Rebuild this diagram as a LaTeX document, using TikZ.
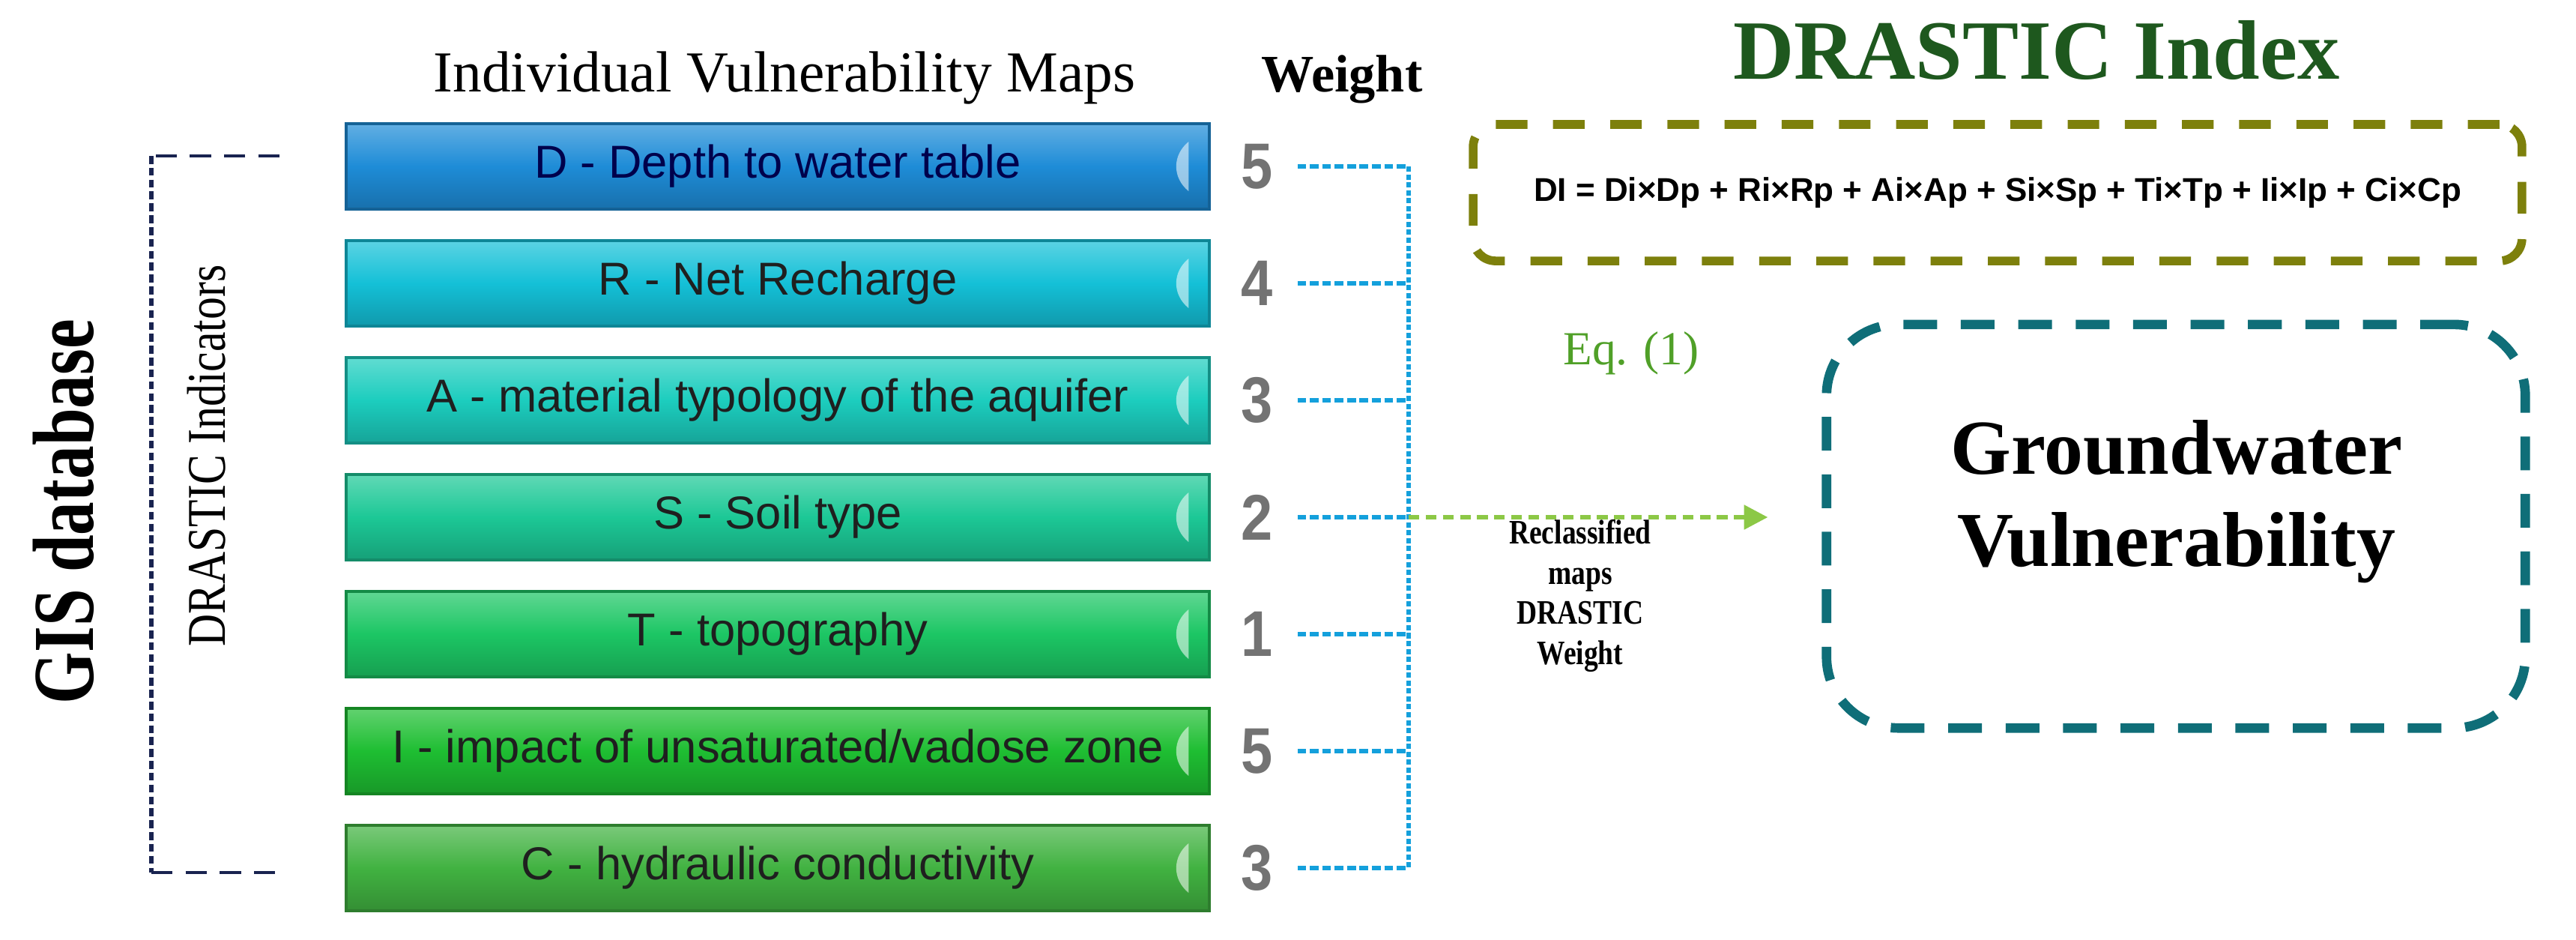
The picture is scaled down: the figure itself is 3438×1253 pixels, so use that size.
\documentclass[tikz,border=0pt]{standalone}
\usepackage{fontspec}
\setmainfont{Liberation Serif}
\newfontfamily\sansf{Liberation Sans}
\newfontfamily\sansn[FakeStretch=0.88]{Liberation Sans}
\newfontfamily\serifn[FakeStretch=0.82]{Liberation Serif}
\newfontfamily\serifm[FakeStretch=0.77]{Liberation Serif}
\usetikzlibrary{calc,arrows.meta}
\definecolor{cD}{RGB}{30,140,215}
\definecolor{cR}{RGB}{20,192,215}
\definecolor{cA}{RGB}{28,205,190}
\definecolor{cS}{RGB}{28,200,150}
\definecolor{cT}{RGB}{28,198,100}
\definecolor{cI}{RGB}{30,190,50}
\definecolor{cC}{RGB}{65,178,65}
\definecolor{dgreen}{RGB}{30,88,30}
\definecolor{eqgreen}{RGB}{80,160,40}
\definecolor{olivebox}{RGB}{125,128,12}
\definecolor{tealbox}{RGB}{15,110,120}
\definecolor{wblue}{RGB}{20,160,220}
\definecolor{agreen}{RGB}{140,200,70}
\definecolor{navy}{RGB}{25,35,80}
\definecolor{wgray}{RGB}{115,115,115}
\begin{document}
\begin{tikzpicture}[x=0.01cm,y=-0.01cm,
  bar/.style={draw=#1!70!black, line width=1.2pt,
    top color=#1!70!white, bottom color=#1!80!black, middle color=#1,
    minimum width=11.52cm, minimum height=1.14cm, inner sep=0pt,
    font=\sansf\fontsize{17.5}{20}\selectfont, text=black!88,
    path picture={\fill[white,opacity=.55]
      ([xshift=-0.28cm,yshift=-0.33cm]path picture bounding box.east)
      .. controls ([xshift=-0.5cm,yshift=-0.15cm]path picture bounding box.east)
      and ([xshift=-0.5cm,yshift=0.15cm]path picture bounding box.east)
      .. ([xshift=-0.28cm,yshift=0.33cm]path picture bounding box.east) -- cycle;}},
  wt/.style={font=\sansn\bfseries\fontsize{24.5}{26}\selectfont, text=wgray, inner sep=0pt},
  bl/.style={wblue, line width=1.9pt, dash pattern=on 3.3pt off 1.4pt},
  blv/.style={wblue, line width=1.7pt, dash pattern=on 2pt off 1pt},
  garrow/.style={agreen, line width=1.7pt, dash pattern=on 4pt off 2.5pt, -{Triangle[length=9pt,width=9pt]}},
  brk/.style={navy, line width=1.3pt},
]
\useasboundingbox[fill=white] (0,0) rectangle (3438,1253);

% headings
\node[anchor=base, font=\fontsize{22}{24}\selectfont] (hd) at (1047,122) {Individual Vulnerability Maps};
\node[anchor=base, font=\bfseries\fontsize{20}{24}\selectfont] (hw) at (1791,122) {Weight};
\node[anchor=base, font=\bfseries\fontsize{32}{36}\selectfont, text=dgreen] (hi) at (2718,105) {DRASTIC Index};

% bars
\node[bar=cD, text=black!70!blue] (bD) at (1038,222) {D - Depth to water table};
\node[bar=cR] (bR) at (1038,378) {R - Net Recharge};
\node[bar=cA] (bA) at (1038,534) {A - material typology of the aquifer};
\node[bar=cS] (bS) at (1038,690) {S - Soil type};
\node[bar=cT] (bT) at (1038,846) {T - topography};
\node[bar=cI] (bI) at (1038,1002) {I - impact of unsaturated/vadose zone};
\node[bar=cC] (bC) at (1038,1158) {C - hydraulic conductivity};

% weights
\node[wt] (w1) at (1678,222) {5};
\node[wt] (w2) at (1678,378) {4};
\node[wt] (w3) at (1678,534) {3};
\node[wt] (w4) at (1678,690) {2};
\node[wt] (w5) at (1678,846) {1};
\node[wt] (w6) at (1678,1002) {5};
\node[wt] (w7) at (1678,1158) {3};

\coordinate (vtop) at (1880,222);
\coordinate (vbot) at (1880,1158);
\foreach \w in {w1,w2,w3,w4,w5,w6,w7}
  \draw[bl, shorten <=0.32cm] (\w.east) -- (\w.east -| vtop);
\draw[blv] (vtop) -- (vbot);

% formula box
\node[draw=olivebox, line width=3.3pt, dash pattern=on 12pt off 9.7pt, rounded corners=0.3cm,
  minimum width=13.99cm, minimum height=1.82cm,
  font=\sansf\bfseries\fontsize{12.5}{14}\selectfont] (fb) at (2666,257)
  {DI = Di×Dp + Ri×Rp + Ai×Ap + Si×Sp + Ti×Tp + Ii×Ip + Ci×Cp};

\node[font=\fontsize{18}{20}\selectfont, text=eqgreen] (eq) at (2177,471) {Eq. (1)};

% groundwater box
\node[draw=tealbox, line width=3.6pt, dash pattern=on 12.8pt off 9pt, rounded corners=0.95cm,
  minimum width=9.32cm, minimum height=5.38cm] (gw) at (2904,702) {};
\node[align=center, font=\bfseries\fontsize{29.5}{35}\selectfont] (gwt) at (2905,669) {Groundwater\\Vulnerability};

\draw[garrow, shorten >=0.72cm] (w4.east -| vtop) -- (gw.west |- w4.east);

\node[align=center, font=\serifn\bfseries\fontsize{13}{15.3}\selectfont] (rc) at (2109,795)
  {Reclassified\\maps\\DRASTIC\\Weight};

% bracket
\coordinate (bt1) at (373,208);
\coordinate (bt2) at (202,208);
\coordinate (bb2) at (202,1164);
\coordinate (bb1) at (373,1164);
\draw[brk, dash pattern=on 8pt off 5pt] (bt1) -- (bt2);
\draw[brk, line width=1.6pt, dash pattern=on 3pt off 1.5pt] (bt2) -- (bb2);
\draw[brk, dash pattern=on 8pt off 5pt] (bb2) -- (bb1);

\node[rotate=90, font=\serifm\bfseries\fontsize{33}{36}\selectfont] (gis) at (85,683) {GIS database};
\node[rotate=90, font=\serifn\fontsize{20.7}{24}\selectfont] (di) at (276,608) {DRASTIC Indicators};
\end{tikzpicture}
\end{document}
